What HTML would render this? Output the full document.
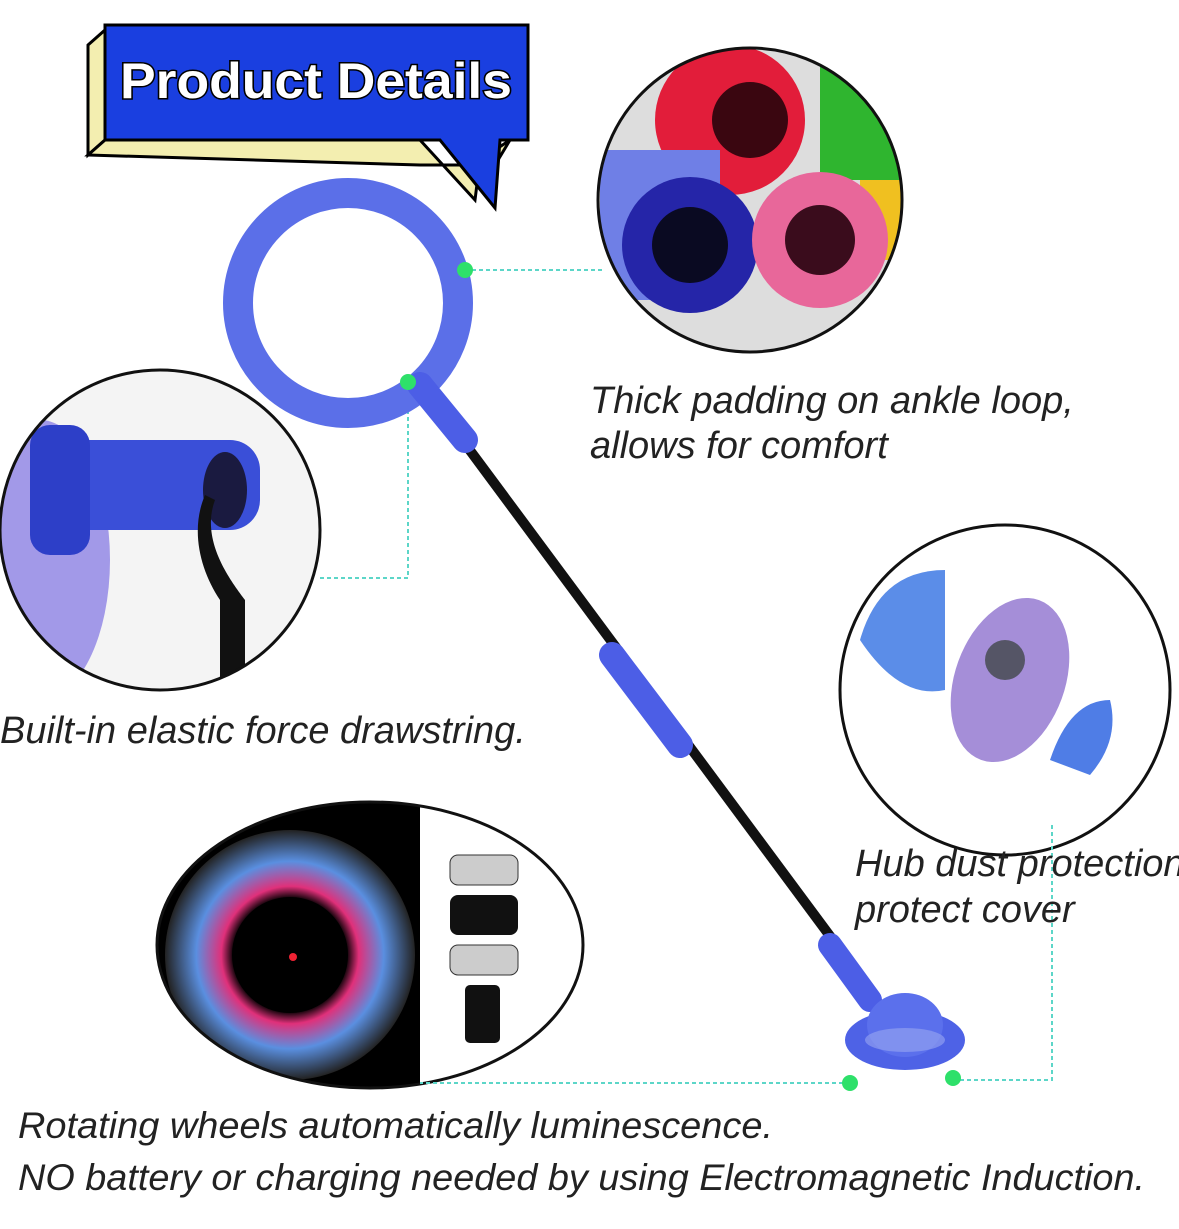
<!DOCTYPE html>
<html><head><meta charset="utf-8"><style>
body{margin:0;background:#fff;}
svg{display:block}
text{font-family:"Liberation Sans",sans-serif;font-style:italic;fill:#222;}
</style></head><body>
<svg width="1179" height="1229" viewBox="0 0 1179 1229" xmlns="http://www.w3.org/2000/svg">
<defs>
<radialGradient id="wh" cx="50%" cy="50%" r="50%">
<stop offset="0.45" stop-color="#000"/><stop offset="0.55" stop-color="#e0307a"/><stop offset="0.75" stop-color="#5a8fe0"/><stop offset="1" stop-color="#222"/>
</radialGradient>
<clipPath id="c1"><circle cx="750" cy="200" r="152"/></clipPath>
<clipPath id="c2"><circle cx="160" cy="530" r="160"/></clipPath>
<clipPath id="c4"><ellipse cx="370" cy="945" rx="213" ry="143"/></clipPath>
</defs>

<!-- banner -->
<polygon points="88,45 105,30 105,140 88,155" fill="#f3eeb0" stroke="#000" stroke-width="3"/>
<polygon points="88,155 105,140 420,140 475,200 480,160 510,140 495,165 420,165" fill="#f3eeb0" stroke="#000" stroke-width="3"/>
<polygon points="105,25 528,25 528,140 500,140 495,208 440,140 105,140" fill="#1a3fe0" stroke="#000" stroke-width="3"/>
<text x="120" y="98" font-size="50" font-weight="bold" font-style="normal" textLength="392" lengthAdjust="spacingAndGlyphs" style="font-style:normal;fill:#fff;stroke:#000;stroke-width:3;paint-order:stroke">Product Details</text>

<!-- top right circle -->
<g clip-path="url(#c1)">
<rect x="590" y="40" width="320" height="320" fill="#ddd"/>
<rect x="820" y="60" width="100" height="120" fill="#2fb52f"/>
<rect x="860" y="180" width="60" height="80" fill="#f0c020"/>
<circle cx="730" cy="120" r="75" fill="#e21d3a"/><circle cx="750" cy="120" r="38" fill="#3a0610"/>
<rect x="600" y="150" width="120" height="150" fill="#6f7fe6"/>
<circle cx="690" cy="245" r="68" fill="#2525a8"/><circle cx="690" cy="245" r="38" fill="#0a0a22"/>
<circle cx="820" cy="240" r="68" fill="#e8679a"/><circle cx="820" cy="240" r="35" fill="#3a0c1c"/>
</g>
<circle cx="750" cy="200" r="152" fill="none" stroke="#111" stroke-width="3"/>

<!-- left circle -->
<g clip-path="url(#c2)">
<rect x="0" y="370" width="330" height="330" fill="#f4f4f4"/>
<ellipse cx="40" cy="560" rx="70" ry="140" fill="#6a5be0" opacity="0.6"/>
<rect x="50" y="440" width="210" height="90" rx="30" fill="#3a4fd8"/>
<rect x="30" y="425" width="60" height="130" rx="20" fill="#2d3fc8"/>
<ellipse cx="225" cy="490" rx="22" ry="38" fill="#1a1a40"/>
<path d="M215,500 C200,540 230,580 245,600 L245,690 L220,690 L220,600 C200,570 190,530 205,495Z" fill="#111"/>
</g>
<circle cx="160" cy="530" r="160" fill="none" stroke="#111" stroke-width="3"/>

<!-- right circle -->
<circle cx="1005" cy="690" r="165" fill="#fff" stroke="#111" stroke-width="3"/>
<path d="M860,640 Q880,570 945,570 L945,690 Q900,700 860,640Z" fill="#5b8de8"/>
<ellipse cx="1010" cy="680" rx="55" ry="85" fill="#a58ed8" transform="rotate(20 1010 680)"/>
<circle cx="1005" cy="660" r="20" fill="#556"/>
<path d="M1050,760 Q1070,700 1110,700 Q1120,740 1090,775Z" fill="#4f7de6"/>

<!-- bottom oval -->
<g clip-path="url(#c4)">
<rect x="150" y="800" width="270" height="300" fill="#000"/>
<rect x="420" y="800" width="170" height="300" fill="#fff"/>
<circle cx="290" cy="955" r="125" fill="url(#wh)"/>
<circle cx="290" cy="955" r="58" fill="#000"/>
<circle cx="293" cy="957" r="4" fill="#e23"/>
<rect x="450" y="855" width="68" height="30" rx="8" fill="#ccc" stroke="#333"/>
<rect x="450" y="895" width="68" height="40" rx="8" fill="#111"/>
<rect x="450" y="945" width="68" height="30" rx="8" fill="#ccc" stroke="#333"/>
<rect x="465" y="985" width="35" height="58" rx="5" fill="#111"/>
</g>
<ellipse cx="370" cy="945" rx="213" ry="143" fill="none" stroke="#111" stroke-width="3"/>

<!-- connectors -->
<g stroke="#5cd6c8" stroke-width="2" stroke-dasharray="4,3" fill="none">
<path d="M465,270 L605,270"/>
<path d="M408,382 L408,578 L320,578"/>
<path d="M850,1083 L420,1083"/>
<path d="M953,1080 L1052,1080 L1052,825"/>
</g>

<!-- ring -->
<circle cx="348" cy="303" r="110" fill="none" stroke="#5b6fe8" stroke-width="30"/>
<!-- stick -->
<line x1="440" y1="410" x2="870" y2="990" stroke="#111" stroke-width="10"/>
<line x1="420" y1="385" x2="465" y2="440" stroke="#4c5ee6" stroke-width="26" stroke-linecap="round"/>
<line x1="612" y1="655" x2="680" y2="745" stroke="#4c5ee6" stroke-width="26" stroke-linecap="round"/>
<line x1="830" y1="945" x2="870" y2="1000" stroke="#4c5ee6" stroke-width="24" stroke-linecap="round"/>
<ellipse cx="905" cy="1040" rx="60" ry="30" fill="#4e62e6"/>
<ellipse cx="905" cy="1025" rx="38" ry="32" fill="#5b70ec"/>
<ellipse cx="905" cy="1040" rx="40" ry="12" fill="#9aa6f2" opacity="0.6"/>

<g fill="#2ee06a">
<circle cx="465" cy="270" r="8"/><circle cx="408" cy="382" r="8"/><circle cx="850" cy="1083" r="8"/><circle cx="953" cy="1078" r="8"/>
</g>

<!-- text -->
<text x="590" y="413" font-size="38">Thick padding on ankle loop,</text>
<text x="590" y="458" font-size="38">allows for comfort</text>
<text x="0" y="743" font-size="38">Built-in elastic force drawstring.</text>
<text x="855" y="876" font-size="38">Hub dust protection</text>
<text x="855" y="922" font-size="38">protect cover</text>
<text x="18" y="1138" font-size="37" textLength="755" lengthAdjust="spacingAndGlyphs">Rotating wheels automatically luminescence.</text>
<text x="18" y="1190" font-size="37" textLength="1127" lengthAdjust="spacingAndGlyphs">NO battery or charging needed by using Electromagnetic Induction.</text>
</svg>
</body></html>
